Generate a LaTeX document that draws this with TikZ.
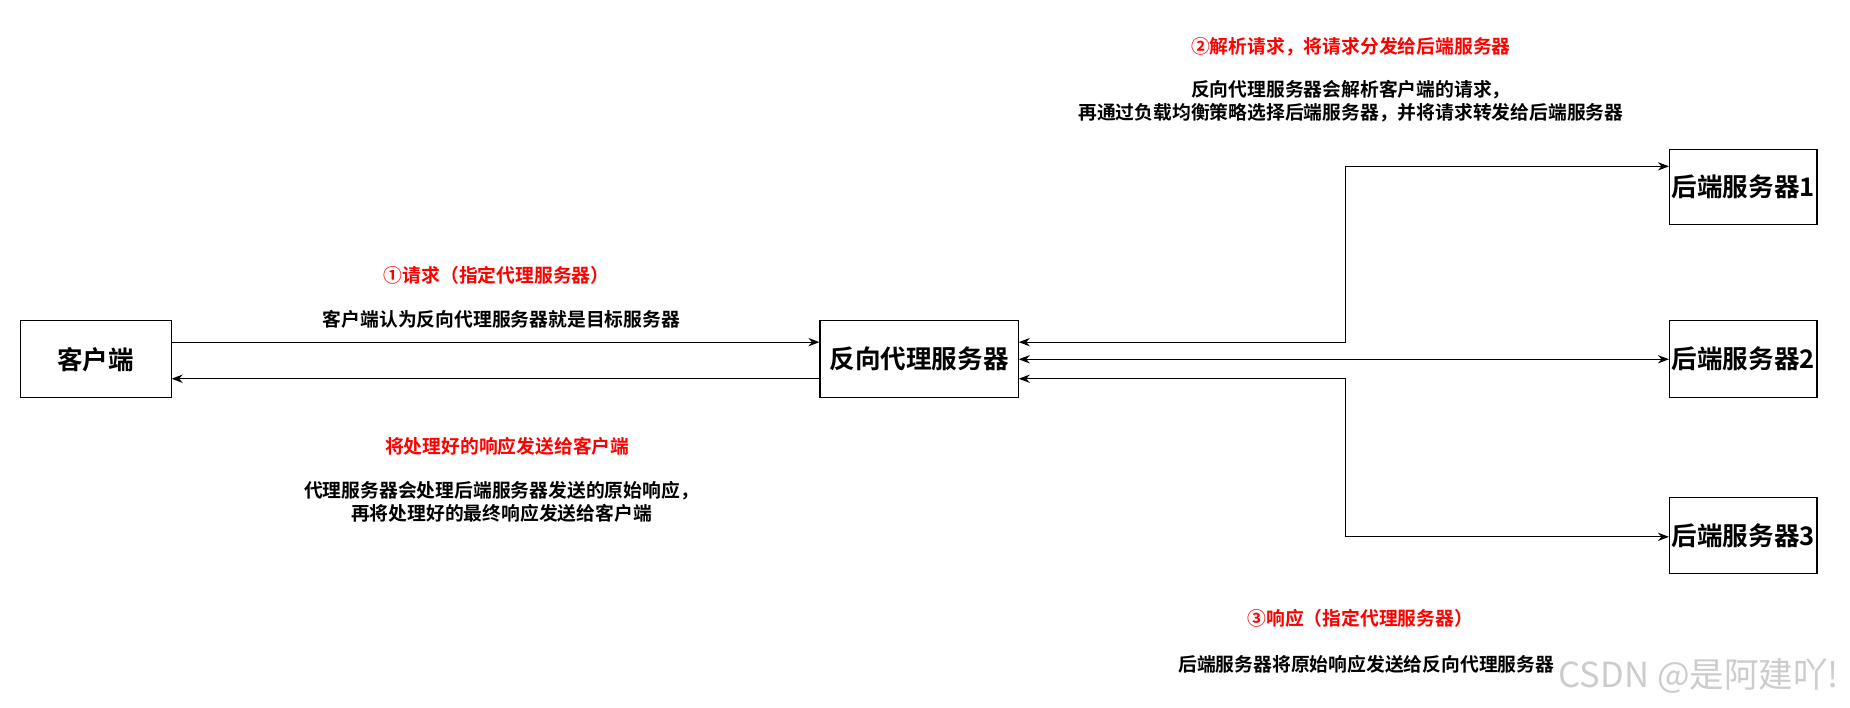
\documentclass[tikz,border=0pt]{standalone}
\usepackage{fontspec}
\setmainfont{Noto Sans CJK SC}[BoldFont={* Bold}]
\usetikzlibrary{arrows.meta}
\begin{document}
\begin{tikzpicture}[x=0.03cm,y=-0.03cm,
 box/.style={draw,line width=0.8pt,inner sep=0,font=\fontsize{18.5}{21}\selectfont\bfseries},
 lbl/.style={font=\fontsize{13.6}{16.5}\selectfont\bfseries,align=center},
 red/.style={lbl,text=red},
 conn/.style={line width=0.7pt,-{Stealth[length=8pt,width=6pt]}},
 both/.style={line width=0.7pt,{Stealth[length=8pt,width=6pt]}-{Stealth[length=8pt,width=6pt]}}]
\useasboundingbox (0,0) rectangle (1568,600);
\node[box,minimum width=3.84cm,minimum height=1.95cm] (c) at (81,304.5) {客户端};
\node[box,minimum width=5.04cm,minimum height=1.95cm] (p) at (779,304.5) {反向代理服务器};
\node[box,minimum width=3.75cm,minimum height=1.89cm] (b1) at (1477.5,158.5) {后端服务器1};
\node[box,minimum width=3.75cm,minimum height=1.95cm] (b2) at (1477.5,304.5) {后端服务器2};
\node[box,minimum width=3.75cm,minimum height=1.92cm] (b3) at (1477.5,454) {后端服务器3};
\draw[conn] (c.east|-0,290) -- (p.west|-0,290);
\draw[conn] (p.west|-0,321) -- (c.east|-0,321);
\draw[both] (p.east|-0,290) -- (1140,290) -- (1140,141) -- (b1.west|-0,141);
\draw[both] (p) -- (b2);
\draw[both] (p.east|-0,321) -- (1140,321) -- (1140,455) -- (b3.west|-0,455);
\node[red] (t1) at (421,233) {①请求（指定代理服务器）};
\node[lbl] (t2) at (425,271) {客户端认为反向代理服务器就是目标服务器};
\node[red] (t3) at (430,378) {将处理好的响应发送给客户端};
\node[lbl] (t4) at (425,425) {代理服务器会处理后端服务器发送的原始响应，\\再将处理好的最终响应发送给客户端};
\node[red] (t5) at (1145,40) {②解析请求，将请求分发给后端服务器};
\node[lbl] (t6) at (1145,86) {反向代理服务器会解析客户端的请求，\\再通过负载均衡策略选择后端服务器，并将请求转发给后端服务器};
\node[red] (t7) at (1153,524) {③响应（指定代理服务器）};
\node[lbl] (t8) at (1158,563) {后端服务器将原始响应发送给反向代理服务器};
\node[font=\fontsize{25}{28}\selectfont,text=gray!40] (wm) at (1440,573) {CSDN @是阿建吖!};
\end{tikzpicture}
\end{document}
